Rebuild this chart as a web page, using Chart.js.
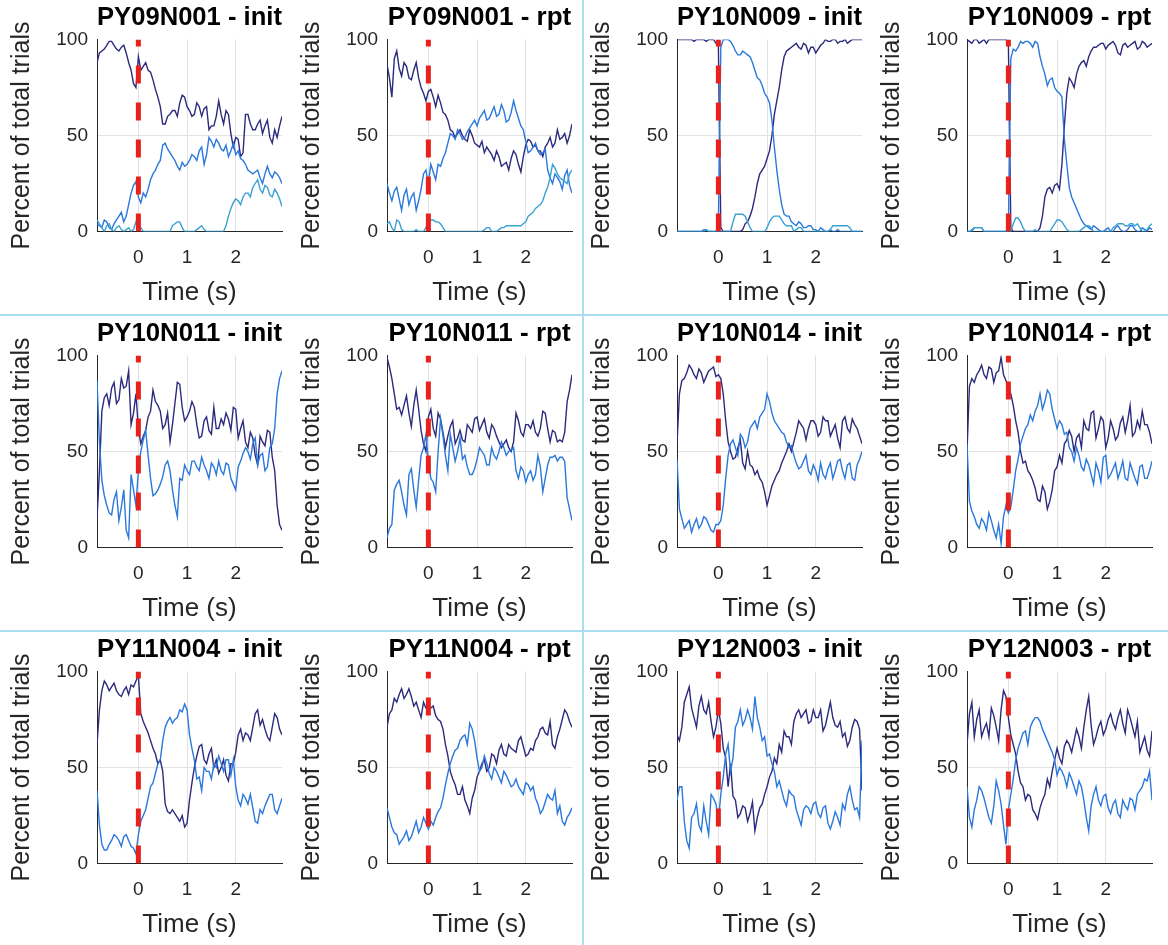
<!DOCTYPE html>
<html>
<head>
<meta charset="utf-8">
<script src="https://cdn.jsdelivr.net/npm/chart.js@4.4.1/dist/chart.umd.min.js"></script>
<style>
  html, body { margin: 0; padding: 0; background: #fff; }
  #fig { position: relative; width: 1168px; height: 945px; overflow: hidden; background: #fff; }
  #fig canvas { position: absolute; }
  .sep { position: absolute; background: #a9dff1; }
</style>
</head>
<body>
<div id="fig">
  <div class="sep" style="left:582px; top:0; width:2px; height:945px;"></div>
  <div class="sep" style="left:0; top:314px; width:1168px; height:2px;"></div>
  <div class="sep" style="left:0; top:630px; width:1168px; height:2px;"></div>
</div>
<script>
// time axis (s), 50 ms bins shared by every panel
const times = [-0.85, -0.8, -0.75, -0.7, -0.65, -0.6, -0.55, -0.5, -0.45, -0.4,
  -0.35, -0.3, -0.25, -0.2, -0.15, -0.1, -0.05, 0, 0.05, 0.1,
  0.15, 0.2, 0.25, 0.3, 0.35, 0.4, 0.45, 0.5, 0.55, 0.6,
  0.65, 0.7, 0.75, 0.8, 0.85, 0.9, 0.95, 1, 1.05, 1.1,
  1.15, 1.2, 1.25, 1.3, 1.35, 1.4, 1.45, 1.5, 1.55, 1.6,
  1.65, 1.7, 1.75, 1.8, 1.85, 1.9, 1.95, 2, 2.05, 2.1,
  2.15, 2.2, 2.25, 2.3, 2.35, 2.4, 2.45, 2.5, 2.55, 2.6,
  2.65, 2.7, 2.75, 2.8, 2.85, 2.9, 2.95];
const xTicks = [0, 1, 2];
const yTicks = [0, 50, 100];
const cueTime = 0;

// percent of total trials per choice, one array per trace
const py09n001InitA = [88,93,94,95,97,99,99,97,95,94,96,97,93,88,84,77,75,91,84,86,88,84,83,79,74,70,65,56,56,60,61,63,63,60,67,71,70,65,63,60,61,67,65,60,64,65,53,55,55,60,68,61,56,63,61,51,44,49,48,39,41,61,61,56,53,53,56,58,51,55,58,49,46,53,49,55,60];
const py09n001InitB = [4,3,2,6,5,2,1,4,6,8,10,5,8,14,20,24,26,18,15,20,18,22,27,30,32,35,37,45,46,43,41,39,37,34,32,36,34,35,37,40,39,37,42,44,35,40,49,47,44,48,46,43,42,45,39,42,46,40,42,38,37,35,32,31,30,31,32,28,25,30,34,30,28,31,30,28,25];
const py09n001InitC = [6,4,2,0,3,4,1,0,2,3,1,0,1,2,0,1,5,3,2,0,0,0,0,0,0,0,0,0,0,0,0,3,4,5,5,2,0,0,0,0,0,1,2,3,1,0,0,0,0,0,0,0,0,3,8,12,15,17,16,14,18,20,20,18,23,25,27,22,20,24,23,19,18,22,20,17,13];

const py09n001RptA = [87,80,70,90,94,85,81,88,86,80,79,84,88,80,75,72,68,73,74,70,65,71,67,62,61,58,53,52,49,51,53,50,48,47,53,50,46,45,44,47,41,44,42,40,37,42,39,34,35,36,32,38,42,40,35,31,39,45,48,47,44,45,42,42,39,44,46,49,44,46,53,48,49,51,46,50,56];
const py09n001RptB = [25,20,16,21,23,17,11,19,22,14,18,20,11,16,22,30,32,25,35,31,27,35,34,38,41,46,51,50,48,53,51,48,49,52,54,56,58,55,59,61,63,58,59,62,65,60,61,66,63,57,58,62,68,63,59,55,53,47,41,42,44,46,42,40,41,43,32,28,25,30,28,26,22,29,32,24,20];
const py09n001RptC = [4,5,2,0,6,5,1,0,0,0,0,0,1,0,0,0,2,6,6,6,5,5,4,2,0,0,0,0,0,0,0,0,0,0,0,0,0,0,0,0,1,2,2,0,0,0,1,2,2,3,3,3,3,3,3,3,4,5,8,9,10,12,13,14,16,20,23,28,35,33,30,28,27,26,25,30,32];

const py10n009InitA = [100,100,100,100,100,100,100,99,100,100,100,100,99,100,100,100,98,97,2,0,0,0,0,0,0,0,0,1,4,5,8,12,18,25,30,32,34,38,42,50,61,68,75,84,91,94,95,96,97,98,96,95,98,97,93,96,96,93,95,97,98,100,99,99,100,100,98,99,99,100,98,99,100,100,100,100,100];
const py10n009InitB = [0,0,0,0,0,0,0,0,0,0,0,1,1,0,0,0,0,3,96,100,100,100,99,97,94,92,92,94,93,92,91,88,84,80,79,76,72,70,67,58,44,32,22,14,9,8,8,5,4,3,5,4,2,2,3,3,1,1,0,2,1,0,0,1,0,0,1,0,0,0,0,0,0,0,0,0,0];
const py10n009InitC = [0,0,0,0,0,0,0,0,0,0,0,0,1,0,0,0,0,0,0,0,0,0,0,5,9,9,9,9,8,5,2,0,0,0,0,0,0,2,5,7,8,8,8,6,4,3,3,3,0,1,2,2,0,0,0,0,0,0,0,0,0,0,0,1,3,3,3,3,3,3,3,2,0,0,0,0,0];

const py10n009RptA = [100,99,98,100,100,98,99,100,98,100,100,100,100,100,100,100,100,98,2,0,0,0,0,0,0,0,0,0,0,0,2,8,18,22,23,20,24,25,22,35,55,72,80,78,75,82,86,88,89,86,91,94,96,96,97,98,98,95,97,98,99,97,93,92,97,98,96,97,98,99,95,96,99,98,96,97,98];
const py10n009RptB = [0,0,0,2,2,2,2,0,0,0,0,0,0,0,0,0,0,2,90,95,94,96,99,98,99,99,98,96,99,98,91,86,82,76,79,80,75,73,72,70,48,35,23,18,15,12,9,6,4,3,2,1,3,2,1,0,0,1,2,0,0,2,3,1,0,0,1,3,3,1,0,0,2,1,0,2,1];
const py10n009RptC = [0,0,1,2,2,2,2,0,0,0,0,0,0,0,0,0,0,0,0,4,7,7,5,2,0,0,0,0,1,0,0,0,0,0,0,2,4,6,6,5,3,1,0,0,0,0,0,1,2,3,3,2,0,0,0,0,0,0,0,0,2,3,4,4,4,3,3,4,4,3,4,2,0,0,1,3,4];

const py10n011InitA = [15,40,71,78,80,74,83,86,75,77,88,83,84,92,64,70,80,62,54,58,61,68,71,82,76,74,71,62,64,70,55,64,75,86,85,73,66,68,71,76,73,64,57,58,66,68,61,59,73,62,62,67,64,70,67,61,73,72,57,62,66,55,52,60,57,48,43,58,55,53,61,60,47,40,22,12,9];
const py10n011InitB = [87,55,35,27,22,18,17,25,29,14,21,30,9,5,38,30,22,40,50,56,61,48,36,27,28,30,33,37,43,45,40,30,22,16,36,35,43,40,38,45,45,42,40,47,43,40,36,44,42,38,45,40,38,44,43,36,33,30,42,45,49,52,50,46,54,57,43,48,49,40,42,52,54,62,80,88,92];

const py10n011RptA = [99,94,88,80,72,73,69,74,79,70,63,74,82,72,61,54,50,68,72,62,58,70,67,60,52,58,63,66,54,57,61,56,55,64,62,60,67,68,61,64,67,60,57,64,62,58,55,52,54,56,52,50,55,70,66,60,58,64,64,62,66,60,58,62,71,70,62,55,61,60,55,56,55,60,76,82,90];
const py10n011RptB = [5,10,12,30,33,35,29,22,17,38,41,30,21,35,48,52,59,45,36,34,29,50,67,58,48,40,59,52,45,50,57,46,48,42,38,38,41,46,52,50,48,43,43,52,48,46,50,55,52,48,50,51,52,40,36,42,40,34,38,40,35,38,48,42,29,36,43,47,47,48,45,47,47,45,26,20,14];

const py10n014InitA = [54,80,87,88,91,95,93,90,88,93,91,86,89,92,93,94,89,90,88,80,66,55,50,46,47,52,56,44,41,50,43,42,38,40,36,34,29,22,27,32,35,38,40,44,47,50,54,50,55,60,66,64,62,56,62,66,66,64,58,60,68,66,66,58,61,64,57,52,66,68,62,60,67,64,62,58,54];
const py10n014InitB = [46,20,15,10,12,14,8,12,15,10,12,16,15,12,9,8,12,12,14,22,36,48,54,56,52,48,59,57,52,55,62,64,66,62,68,70,72,80,76,70,66,64,62,60,59,55,52,53,48,44,41,42,45,48,40,38,43,40,35,44,38,36,41,44,36,40,45,46,40,36,43,44,36,35,43,46,50];

const py10n014RptA = [50,84,88,86,90,92,95,90,88,94,93,86,91,92,99,90,87,84,80,74,66,60,50,44,45,40,38,35,31,25,24,32,29,20,24,30,40,42,48,44,54,56,61,58,50,57,59,52,66,62,61,70,71,57,62,68,66,52,57,66,62,56,58,65,68,60,66,74,58,60,66,62,71,64,64,60,54];
const py10n014RptB = [54,24,19,16,12,10,15,13,9,18,14,9,5,12,2,16,22,18,21,30,40,46,54,58,62,64,69,66,71,74,80,72,76,82,80,72,67,62,66,64,59,60,52,50,45,52,48,42,40,46,43,38,33,44,40,34,47,48,36,38,41,44,36,40,45,36,35,44,40,36,33,42,43,36,36,40,45];

const py11n004InitA = [62,80,90,95,93,90,92,94,90,88,87,90,92,88,93,92,95,98,78,74,71,68,64,60,57,52,54,48,31,27,26,28,26,24,22,25,19,21,33,42,50,56,61,62,54,52,57,60,50,54,47,50,54,46,43,52,52,58,67,70,64,68,67,64,71,78,80,72,75,70,66,64,71,78,76,70,67];
const py11n004InitB = [38,20,10,7,7,10,12,15,14,12,9,14,15,12,9,8,5,15,22,25,28,34,40,42,47,52,54,64,71,74,76,73,75,76,80,79,83,80,67,60,54,44,45,38,50,48,48,44,52,50,56,52,48,54,54,46,54,40,33,30,36,34,31,36,29,22,21,28,26,30,33,36,36,28,26,30,34];

const py11n004RptA = [71,78,80,86,84,88,91,86,88,91,87,82,84,80,76,84,81,80,81,82,77,75,74,70,62,56,48,44,41,36,36,40,33,30,26,34,38,45,48,52,54,48,50,57,56,52,59,62,57,56,62,60,59,58,64,66,61,56,57,60,59,64,66,70,71,68,67,74,62,60,66,70,75,80,78,74,71];
const py11n004RptB = [29,24,19,16,15,10,12,14,17,12,14,18,22,16,19,24,21,18,22,20,24,27,29,34,41,47,52,56,59,60,64,66,67,62,73,70,64,55,48,50,56,52,47,44,50,48,45,42,48,46,43,40,41,44,40,38,36,42,41,38,40,34,31,26,28,32,36,34,33,38,26,30,22,20,24,26,29];

const py12n003InitA = [67,64,71,84,88,92,81,76,71,82,87,80,78,84,74,66,71,80,73,60,55,40,52,35,33,24,26,30,29,22,26,32,17,24,29,31,36,40,45,48,55,52,62,58,69,66,66,62,74,78,80,76,78,80,73,74,80,76,76,80,69,72,78,84,76,72,71,74,66,68,61,64,71,75,74,70,38];
const py12n003InitB = [33,40,40,22,12,8,24,26,31,20,17,30,22,15,36,34,31,22,36,45,57,62,48,55,71,74,80,72,75,80,76,70,87,76,71,64,66,56,57,52,48,40,43,38,33,30,38,36,35,28,24,20,28,30,29,26,31,32,26,24,29,30,21,18,22,27,24,20,31,28,36,40,33,28,29,24,64];

const py12n003RptA = [62,78,84,66,75,80,66,70,73,66,81,77,71,64,80,90,87,76,67,62,57,48,42,40,33,36,35,28,26,23,29,33,36,44,40,48,54,60,55,52,61,64,62,58,64,70,66,60,71,80,87,72,62,66,71,74,67,70,75,78,73,70,76,80,73,68,80,76,71,66,74,58,62,66,59,56,69];
const py12n003RptB = [40,24,19,28,33,40,38,34,29,24,21,30,43,38,31,20,10,28,36,44,54,60,64,68,69,62,71,74,76,76,74,70,67,64,61,58,54,46,50,48,45,40,47,44,40,36,43,40,33,24,17,30,36,40,33,30,35,36,29,26,31,33,26,24,33,30,28,34,33,28,36,38,40,44,43,48,33];

const panelTitles = [
  'PY09N001 - init', 'PY09N001 - rpt', 'PY10N009 - init', 'PY10N009 - rpt',
  'PY10N011 - init', 'PY10N011 - rpt', 'PY10N014 - init', 'PY10N014 - rpt',
  'PY11N004 - init', 'PY11N004 - rpt', 'PY12N003 - init', 'PY12N003 - rpt'
];
const panelSeries = [
  [py09n001InitA, py09n001InitB, py09n001InitC],
  [py09n001RptA, py09n001RptB, py09n001RptC],
  [py10n009InitA, py10n009InitB, py10n009InitC],
  [py10n009RptA, py10n009RptB, py10n009RptC],
  [py10n011InitA, py10n011InitB],
  [py10n011RptA, py10n011RptB],
  [py10n014InitA, py10n014InitB],
  [py10n014RptA, py10n014RptB],
  [py11n004InitA, py11n004InitB],
  [py11n004RptA, py11n004RptB],
  [py12n003InitA, py12n003InitB],
  [py12n003RptA, py12n003RptB]
];

const lineColors = ['#2c2a7c', '#2a78dc', '#38a2d4'];
const axisColor = '#262626';
const gridColor = '#e2e2e2';

Chart.defaults.font.family = '"Liberation Sans", Arial, Helvetica, sans-serif';
Chart.defaults.color = axisColor;

const fig = document.getElementById('fig');
const PANEL_W = 290, PANEL_H = 316;

panelTitles.forEach((title, p) => {
  const col = p % 4, row = Math.floor(p / 4);
  const canvas = document.createElement('canvas');
  canvas.width = PANEL_W;
  canvas.height = PANEL_H;
  canvas.style.left = (col * PANEL_W) + 'px';
  canvas.style.top = (row * PANEL_H) + 'px';
  fig.insertBefore(canvas, fig.firstChild);

  // traces, first one plotted at the bottom
  const traces = panelSeries[p].map((vals, k) => ({
    data: times.map((t, i) => ({ x: t, y: vals[i] })),
    borderColor: lineColors[k],
    borderWidth: 1.4,
    pointRadius: 0,
    tension: 0,
    fill: false
  })).reverse();

  // dashed cue marker at t = 0, drawn from bottom up
  const cue = {
    data: [{ x: cueTime, y: yTicks[0] }, { x: cueTime, y: yTicks[yTicks.length - 1] }],
    borderColor: '#e8211d',
    borderWidth: 5,
    borderDash: [18, 19],
    pointRadius: 0,
    fill: false
  };

  new Chart(canvas, {
    type: 'line',
    data: { datasets: [cue, ...traces] },
    options: {
      responsive: false,
      animation: false,
      events: [],
      layout: { padding: { left: 0, right: 8, top: 0, bottom: 0 } },
      plugins: {
        legend: { display: false },
        tooltip: { enabled: false },
        title: {
          display: true,
          text: title,
          fullSize: false,
          color: '#000',
          font: { size: 26, weight: 'bold', lineHeight: 1.2 },
          padding: { top: 2.4, bottom: 5.9 }
        }
      },
      scales: {
        x: {
          type: 'linear',
          min: -0.85,
          max: 2.95,
          afterBuildTicks: s => { s.ticks = xTicks.map(v => ({ value: v })); },
          afterFit: s => { s.height = 84.5; },
          grid: { color: gridColor, drawTicks: false },
          border: { color: axisColor, width: 1 },
          ticks: { font: { size: 19 }, color: axisColor, padding: 15, maxRotation: 0 },
          title: {
            display: true, text: 'Time (s)', color: axisColor,
            font: { size: 26, lineHeight: 1.2 }, padding: { top: 0, bottom: 7.4 }
          }
        },
        y: {
          min: 0,
          max: 100,
          afterBuildTicks: s => { s.ticks = yTicks.map(v => ({ value: v })); },
          afterFit: s => { s.width = 97; },
          grid: {
            drawTicks: false,
            color: c => (c.tick && c.tick.value === 100 ? 'rgba(0,0,0,0)' : gridColor)
          },
          border: { color: axisColor, width: 1 },
          ticks: { font: { size: 19 }, color: axisColor, padding: 9 },
          title: {
            display: true, text: 'Percent of total trials', color: axisColor,
            font: { size: 25, lineHeight: 1.2 }, padding: { top: 7, bottom: 0 }
          }
        }
      }
    }
  });
});
</script>
</body>
</html>
